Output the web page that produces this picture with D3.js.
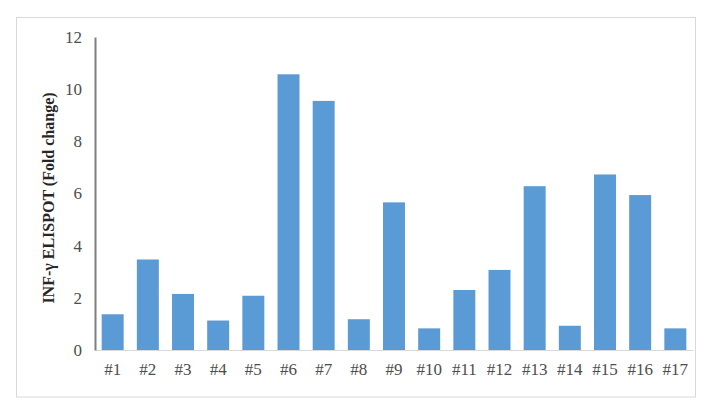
<!DOCTYPE html>
<html><head><meta charset="utf-8">
<script src="https://cdn.jsdelivr.net/npm/d3@7"></script>
<style>
html,body{margin:0;padding:0;background:#fff;}
svg{display:block;}
svg text{font-family:"Liberation Serif","Times New Roman",serif;}
</style></head>
<body>
<svg id="chart" width="720" height="408"></svg>
<script>
const categories = ["#1","#2","#3","#4","#5","#6","#7","#8","#9","#10","#11","#12","#13","#14","#15","#16","#17"];
const values = [1.37, 3.47, 2.15, 1.13, 2.08, 10.57, 9.55, 1.18, 5.66, 0.83, 2.3, 3.07, 6.28, 0.93, 6.73, 5.94, 0.83];
const yTicks = [0, 2, 4, 6, 8, 10, 12];
const yLabel = "INF-\u03B3 ELISPOT (Fold change)";

const serif = '"Liberation Serif","Times New Roman",serif';
const svg = d3.select("#chart");
const margin = {left: 95, right: 720 - 693, top: 37, bottom: 408 - 350};
const W = 720, H = 408;

// outer frame
svg.append("rect").attr("x", 16.5).attr("y", 17.5).attr("width", 695.5 - 16.5).attr("height", 397 - 17.5)
  .attr("fill", "#fff").attr("stroke", "#d9d9d9").attr("stroke-width", 1);

const x = d3.scaleBand().domain(categories).range([margin.left, W - margin.right]).paddingInner(0.375).paddingOuter(0.19);
const y = d3.scaleLinear().domain([0, 12]).range([H - margin.bottom, margin.top]);

// bars
svg.append("g").selectAll("rect").data(values).join("rect")
  .attr("x", (d, i) => x(categories[i]))
  .attr("width", x.bandwidth())
  .attr("y", d => y(d))
  .attr("height", d => y(0) - y(d))
  .attr("fill", "#5b9bd5");

// x axis
const xAxis = svg.append("g").attr("transform", `translate(0,${y(0)})`)
  .call(d3.axisBottom(x).tickSize(0).tickPadding(13));
xAxis.attr("font-family", null).attr("font-size", null);
xAxis.select(".domain").attr("stroke", "#d9d9d9").attr("stroke-width", 1);
xAxis.selectAll("text").style("font-family", serif).style("font-size", "17px").attr("fill", "#4d4d4d");

// y axis
const yAxis = svg.append("g").attr("transform", `translate(${margin.left},0)`)
  .call(d3.axisLeft(y).tickValues(yTicks).tickSize(0).tickPadding(13).tickFormat(d3.format("d")));
yAxis.attr("font-family", null).attr("font-size", null);
yAxis.select(".domain").attr("stroke", "#7f7f7f").attr("stroke-width", 2);
yAxis.selectAll("text").style("font-family", serif).style("font-size", "17px").attr("fill", "#4d4d4d");

// y label
svg.append("text")
  .attr("transform", `translate(54,198) rotate(-90)`)
  .attr("text-anchor", "middle")
  .style("font-family", serif)
  .style("font-size", "16px").attr("font-weight", "bold").attr("fill", "#262626")
  .text(yLabel);
</script>
</body></html>
